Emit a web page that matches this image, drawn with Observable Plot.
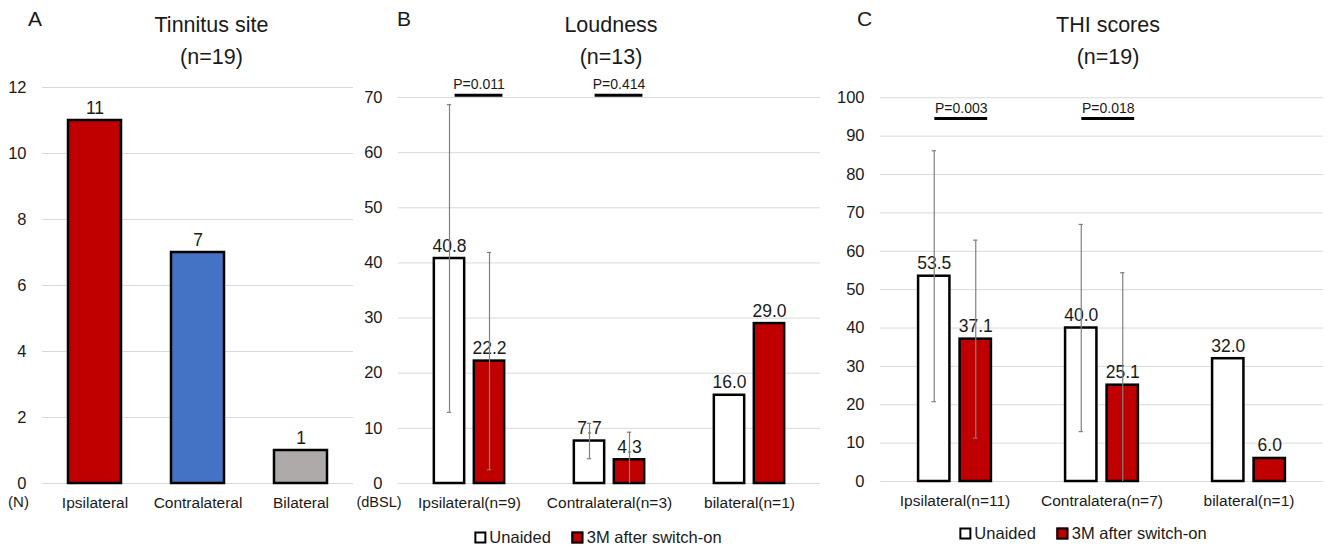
<!DOCTYPE html>
<html><head><meta charset="utf-8">
<script src="https://cdn.jsdelivr.net/npm/d3@7"></script>
<script src="https://cdn.jsdelivr.net/npm/@observablehq/plot@0.6"></script>
<style>
body{margin:0;background:#fff;font-family:'Liberation Sans',Arial,sans-serif;color:#1a1a1a;}
#root{position:relative;width:1328px;height:548px;overflow:hidden;background:#fff;}
.panel{position:absolute;}
.title{position:absolute;text-align:center;font-size:21.5px;line-height:32px;white-space:nowrap;transform:translateX(-50%);}
.letter{position:absolute;font-size:21px;line-height:1;}
.legend{position:absolute;display:flex;align-items:center;font-size:16.5px;white-space:nowrap;transform:translate(-50%,-50%);}
.sw{display:inline-block;width:8px;height:8px;border:2px solid #000;margin-right:3px;}
.item{display:flex;align-items:center;margin-right:21px;}
.item:last-child{margin-right:0;}
</style></head><body><div id="root"></div>
<script>
// ---------- data ----------
const seriesNames = ["Unaided", "3M after switch-on"];
const seriesFill = ["#ffffff", "#C00000"];

// Panel A: Tinnitus site
const siteCategories = ["Ipsilateral", "Contralateral", "Bilateral"];
const siteCounts = [11, 7, 1];
const siteColors = ["#C00000", "#4472C4", "#AEAAAA"];
const siteTicks = [0, 2, 4, 6, 8, 10, 12];

// Panel B: Loudness (dBSL)
const loudCategories = ["Ipsilateral(n=9)", "Contralateral(n=3)", "bilateral(n=1)"];
const loudUnaided = [40.8, 7.7, 16.0];
const loudAfter = [22.2, 4.3, 29.0];
const loudUnaidedSD = [27.9, 3.2, null];
const loudAfterSD = [19.7, 5.0, null];
const loudP = ["P=0.011", "P=0.414"];
const loudPLevel = 70.4;
const loudTicks = [0, 10, 20, 30, 40, 50, 60, 70];

// Panel C: THI scores
const thiCategories = ["Ipsilateral(n=11)", "Contralatera(n=7)", "bilateral(n=1)"];
const thiUnaided = [53.5, 40.0, 32.0];
const thiAfter = [37.1, 25.1, 6.0];
const thiUnaidedSD = [32.7, 27.0, null];
const thiAfterSD = [25.8, 29.3, null];
const thiP = ["P=0.003", "P=0.018"];
const thiPLevel = 94.6;
const thiTicks = [0, 10, 20, 30, 40, 50, 60, 70, 80, 90, 100];

// ---------- layout helpers ----------
const FONT = "'Liberation Sans', Arial, sans-serif";
const TXT = "#1a1a1a";
const GRID = "#d9d9d9";
const ERR = "#808080";
const root = document.getElementById("root");

function place(el, left, top) {
  const d = document.createElement("div");
  d.className = "panel";
  d.style.left = left + "px";
  d.style.top = top + "px";
  d.appendChild(el);
  root.appendChild(d);
}
function addTitle(cx, lines, letter, letterX) {
  const t = document.createElement("div");
  t.className = "title";
  t.style.left = cx + "px";
  t.style.top = "8.5px";
  t.innerHTML = lines.join("<br>");
  root.appendChild(t);
  const l = document.createElement("div");
  l.className = "letter";
  l.style.left = letterX + "px";
  l.style.top = "8px";
  l.textContent = letter;
  root.appendChild(l);
}
function addLegend(cx, cy) {
  const g = document.createElement("div");
  g.className = "legend";
  g.style.left = cx + "px";
  g.style.top = cy + "px";
  seriesNames.forEach((s, i) => {
    const it = document.createElement("div");
    it.className = "item";
    const sw = document.createElement("span");
    sw.className = "sw";
    sw.style.background = seriesFill[i];
    it.appendChild(sw);
    it.appendChild(document.createTextNode(s));
    g.appendChild(it);
  });
  root.appendChild(g);
}
const baseStyle = {fontFamily: FONT, fontSize: "16.5px", color: TXT, background: "transparent", overflow: "visible"};

// ---------- Panel A ----------
const siteRows = siteCategories.map((cat, i) => ({cat, n: siteCounts[i], color: siteColors[i]}));
const plotA = Plot.plot({
  width: 355, height: 458,
  marginLeft: 42, marginRight: 2, marginTop: 17, marginBottom: 45,
  style: baseStyle,
  x: {domain: siteCategories, paddingInner: 0.484, paddingOuter: 0.242},
  y: {domain: [0, 12]},
  color: {type: "identity"},
  marks: [
    Plot.ruleY(siteTicks, {stroke: GRID, strokeWidth: 1}),
    Plot.barY(siteRows, {x: "cat", y: "n", fill: "color", stroke: "#000", strokeWidth: 2.5}),
    Plot.text(siteRows, {x: "cat", y: "n", text: d => String(d.n), dy: -7, lineAnchor: "bottom", fontSize: 17.5, fill: TXT}),
    Plot.axisX({tickSize: 0, tickPadding: 13, fontSize: 15.5, label: null}),
    Plot.axisY({ticks: siteTicks, tickSize: 0, tickPadding: 16, fontSize: 16.5, label: null}),
    Plot.text(["(N)"], {frameAnchor: "bottom-left", textAnchor: "middle", dx: -24, dy: 19, lineAnchor: "middle", fontSize: 15, fill: TXT})
  ]
});
place(plotA, 0, 70);
addTitle(211.5, ["Tinnitus site", "(n=19)"], "A", 28);

// ---------- grouped panels ----------
function groupedPanel(cfg) {
  const n = cfg.categories.length;
  const step = (cfg.width - cfg.marginLeft - cfg.marginRight) / n;
  const half = step / 2;
  const at = (c, w) => ({insetLeft: half + c - w / 2, insetRight: half - c - w / 2});
  const mk = (vals, sds) => cfg.categories.map((cat, i) => ({cat, value: vals[i], sd: sds[i]}));
  const U = mk(cfg.unaided, cfg.unaidedSD);
  const A = mk(cfg.after, cfg.afterSD);
  const err = rows => rows.filter(d => d.sd != null).map(d => ({...d, lo: Math.max(0, d.value - d.sd), hi: d.value + d.sd}));
  const EU = err(U), EA = err(A);
  const cU = -cfg.offset, cA = cfg.offset;
  const P = cfg.pLabels.map((label, i) => ({cat: cfg.categories[i], label, y: cfg.pLevel}));
  const errMarks = (rows, c) => [
    Plot.ruleX(rows, {x: "cat", y1: "lo", y2: "hi", dx: c, stroke: ERR, strokeWidth: 1.2}),
    Plot.tickY(rows, {x: "cat", y: "hi", ...at(c, 5), stroke: ERR, strokeWidth: 1.2}),
    Plot.tickY(rows.filter(d => d.value - d.sd > 0), {x: "cat", y: "lo", ...at(c, 5), stroke: ERR, strokeWidth: 1.2})
  ];
  const marks = [
    Plot.ruleY(cfg.ticks, {stroke: GRID, strokeWidth: 1}),
    Plot.barY(U, {x: "cat", y: "value", fill: seriesFill[0], stroke: "#000", strokeWidth: 2.5, ...at(cU, cfg.barW)}),
    Plot.barY(A, {x: "cat", y: "value", fill: seriesFill[1], stroke: "#000", strokeWidth: 2.5, ...at(cA, cfg.barW)}),
    Plot.text(U, {x: "cat", y: "value", text: d => d.value.toFixed(1), dx: cU, dy: -7, lineAnchor: "bottom", fontSize: 17.5, fill: TXT}),
    Plot.text(A, {x: "cat", y: "value", text: d => d.value.toFixed(1), dx: cA, dy: -7, lineAnchor: "bottom", fontSize: 17.5, fill: TXT}),
    ...errMarks(EU, cU),
    ...errMarks(EA, cA),
    Plot.tickY(P, {x: "cat", y: "y", ...at(cfg.pCenter, cfg.pLen), stroke: "#000", strokeWidth: 3}),
    Plot.text(P, {x: "cat", y: "y", text: "label", dx: cfg.pCenter, dy: -6, lineAnchor: "bottom", fontSize: 14, fill: TXT}),
    Plot.axisX({tickSize: 0, tickPadding: cfg.xPad, fontSize: 15.5, label: null}),
    Plot.axisY({ticks: cfg.ticks, tickSize: 0, tickPadding: 16, fontSize: 16.5, label: null})
  ];
  if (cfg.unit) marks.push(Plot.text([cfg.unit], {frameAnchor: "bottom-left", textAnchor: "middle", dx: cfg.unitDx, dy: 19, lineAnchor: "middle", fontSize: 14.5, fill: TXT}));
  return Plot.plot({
    width: cfg.width, height: cfg.height,
    marginLeft: cfg.marginLeft, marginRight: cfg.marginRight, marginTop: cfg.marginTop, marginBottom: cfg.marginBottom,
    style: baseStyle,
    x: {domain: cfg.categories, padding: 0},
    y: {domain: [0, cfg.yMax]},
    marks
  });
}

// Panel B
const plotB = groupedPanel({
  categories: loudCategories, unaided: loudUnaided, after: loudAfter,
  unaidedSD: loudUnaidedSD, afterSD: loudAfterSD,
  pLabels: loudP, pLevel: loudPLevel, ticks: loudTicks, yMax: 70,
  width: 470, height: 458, marginLeft: 43, marginRight: 5, marginTop: 27, marginBottom: 45,
  barW: 31, offset: 20, pCenter: 9.5, pLen: 48.5, xPad: 13,
  unit: "(dBSL)", unitDx: -19.5
});
place(plotB, 355, 70);
addTitle(611, ["Loudness", "(n=13)"], "B", 397);
addLegend(598, 537);

// Panel C
const plotC = groupedPanel({
  categories: thiCategories, unaided: thiUnaided, after: thiAfter,
  unaidedSD: thiUnaidedSD, afterSD: thiAfterSD,
  pLabels: thiP, pLevel: thiPLevel, ticks: thiTicks, yMax: 100,
  width: 503, height: 458, marginLeft: 55, marginRight: 5, marginTop: 27.3, marginBottom: 47,
  barW: 32, offset: 20.75, pCenter: 6.25, pLen: 53.5, xPad: 13,
  unit: null
});
place(plotC, 825, 70);
addTitle(1108, ["THI scores", "(n=19)"], "C", 857);
addLegend(1083, 533);
</script></body></html>
